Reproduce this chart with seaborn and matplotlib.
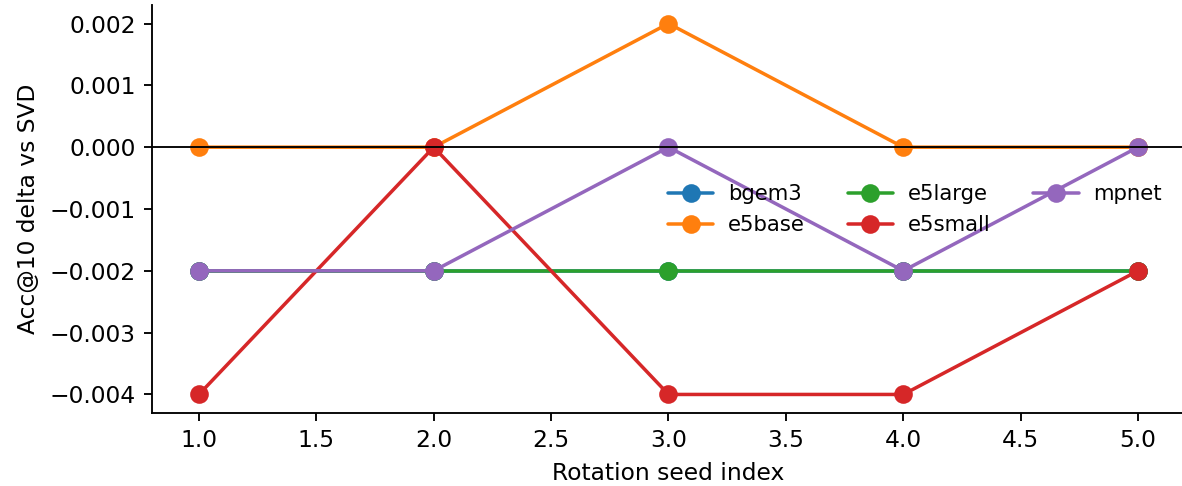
import numpy as np
import pandas as pd
import seaborn as sns
import matplotlib
matplotlib.use("Agg")
import matplotlib.pyplot as plt

seeds = [1, 2, 3, 4, 5]
models = ["bgem3", "e5base", "e5large", "e5small", "mpnet"]
bgem3 = [-0.002, -0.002, -0.002, -0.002, -0.002]
e5base = [0.0, 0.0, 0.002, 0.0, 0.0]
e5large = [-0.002, -0.002, -0.002, -0.002, -0.002]
e5small = [-0.004, 0.0, -0.004, -0.004, -0.002]
mpnet = [-0.002, -0.002, 0.0, -0.002, 0.0]

series = {"bgem3": bgem3, "e5base": e5base, "e5large": e5large,
          "e5small": e5small, "mpnet": mpnet}
rows = []
for m in models:
    for s, v in zip(seeds, series[m]):
        rows.append({"seed": s, "delta": v, "model": m})
df = pd.DataFrame(rows)

sns.set_style("ticks", {"axes.edgecolor": "black", "text.color": "black",
                        "axes.labelcolor": "black", "xtick.color": "black",
                        "ytick.color": "black"})
plt.rcParams['font.family'] = ['DejaVu Sans']

DPI = 168
fig = plt.figure(figsize=(1182 / DPI, 486 / DPI), dpi=DPI)
ax = fig.add_axes([152 / 1182, (486 - 413) / 486, (1185 - 152) / 1182, (413 - 5) / 486])

sns.lineplot(data=df, x="seed", y="delta", hue="model", hue_order=models,
             marker="o", markersize=8, markeredgewidth=0, linewidth=1.5,
             palette="tab10", ax=ax)
ax.axhline(0, color="black", linewidth=0.8)

ax.set_xlabel("Rotation seed index", fontsize=10)
ax.set_ylabel("Acc@10 delta vs SVD", fontsize=10)
ax.tick_params(labelsize=10)
sns.despine(ax=ax)

ax.legend(ncol=3, frameon=False, loc="upper left",
          bbox_to_anchor=(0.481, 0.607), fontsize=9.1,
          handlelength=2.14, handletextpad=0.7)

fig.savefig("out.png", dpi=DPI)
